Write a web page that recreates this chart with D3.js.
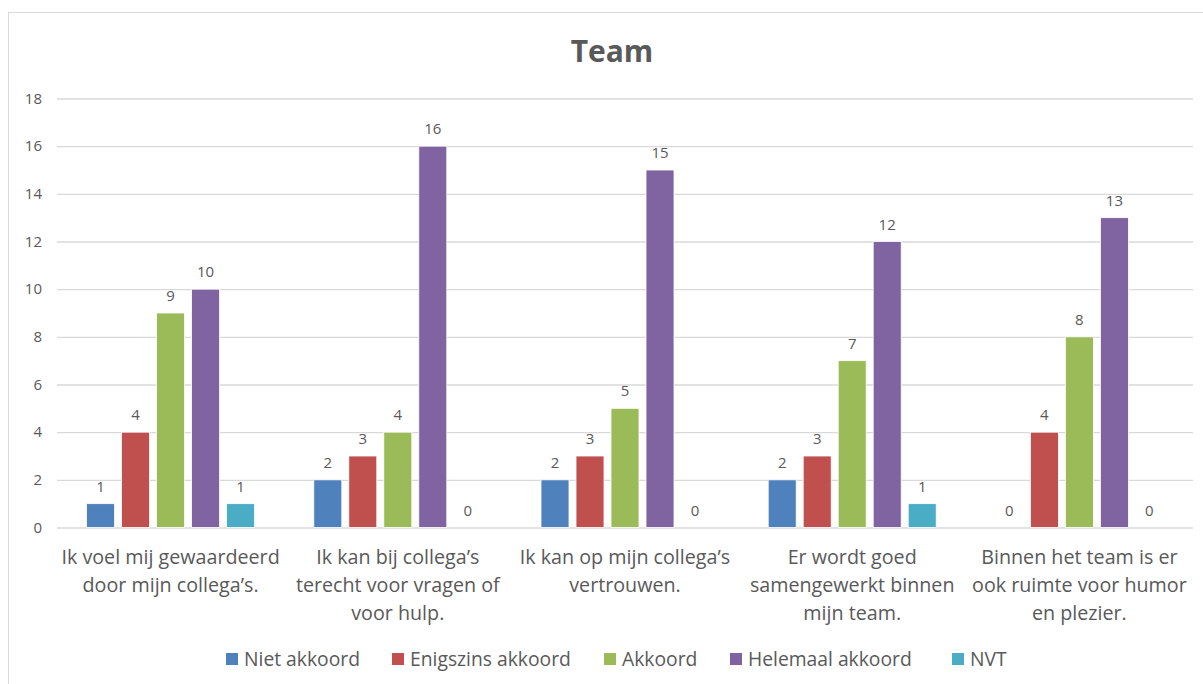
<!DOCTYPE html>
<html>
<head>
<meta charset="utf-8">
<script src="https://cdn.jsdelivr.net/npm/d3@7"></script>
<style>
  html, body { margin: 0; padding: 0; background: #ffffff; }
  svg { display: block; font-family: "Open Sans", "Lato", sans-serif; }
</style>
</head>
<body>
<svg id="chart" width="1203" height="684"></svg>
<script>
// Survey results: team questions, counts per answer
const categories = [
  ["Ik voel mij gewaardeerd", "door mijn collega’s."],
  ["Ik kan bij collega’s", "terecht voor vragen of", "voor hulp."],
  ["Ik kan op mijn collega’s", "vertrouwen."],
  ["Er wordt goed", "samengewerkt binnen", "mijn team."],
  ["Binnen het team is er", "ook ruimte voor humor", "en plezier."]
];
const seriesNames = ["Niet akkoord", "Enigszins akkoord", "Akkoord", "Helemaal akkoord", "NVT"];
const nietAkkoord      = [1, 2, 2, 2, 0];
const enigszinsAkkoord = [4, 3, 3, 3, 4];
const akkoord          = [9, 4, 5, 7, 8];
const helemaalAkkoord  = [10, 16, 15, 12, 13];
const nvt              = [1, 0, 0, 1, 0];
const yTicks = [0, 2, 4, 6, 8, 10, 12, 14, 16, 18];
const colors = ["#4F81BD", "#C0504D", "#9BBB59", "#8064A2", "#4BACC6"];

const seriesValues = [nietAkkoord, enigszinsAkkoord, akkoord, helemaalAkkoord, nvt];

const svg = d3.select("#chart");
const textColor = "#595959";

// Chart frame
svg.append("rect")
  .attr("x", 8.5).attr("y", 12.5)
  .attr("width", 1200).attr("height", 700)
  .attr("fill", "#ffffff")
  .attr("stroke", "#d9d9d9").attr("stroke-width", 1);

// Title
svg.append("text")
  .attr("x", 612).attr("y", 62)
  .attr("text-anchor", "middle")
  .attr("font-size", 30).attr("font-weight", "bold")
  .attr("fill", textColor)
  .text("Team");

const plot = { left: 57, right: 1193, top: 98.5, bottom: 527.5 };

const x0 = d3.scaleBand()
  .domain(d3.range(categories.length))
  .range([plot.left, plot.right])
  .paddingInner(0).paddingOuter(0);

const groupWidth = 175;
const x1 = d3.scaleBand()
  .domain(d3.range(seriesNames.length))
  .range([0, groupWidth])
  .paddingInner(0.2).paddingOuter(0.1);

const y = d3.scaleLinear().domain([0, 18]).range([plot.bottom, plot.top]);

// Gridlines and y tick labels
const yAxis = d3.axisLeft(y)
  .tickValues(yTicks)
  .tickSize(-(plot.right - plot.left))
  .tickPadding(15);
const gy = svg.append("g")
  .attr("transform", `translate(${plot.left},0)`)
  .call(yAxis);
gy.select(".domain").remove();
gy.selectAll(".tick line").attr("stroke", "#d9d9d9").attr("stroke-width", 1.3);
gy.selectAll(".tick text")
  .attr("fill", textColor)
  .attr("font-size", 15)
  .attr("font-family", "'Open Sans', sans-serif");

// Bars
const groups = svg.append("g").selectAll("g")
  .data(categories.map((c, i) => i))
  .join("g")
  .attr("transform", i => `translate(${x0(i) + x0.bandwidth() / 2 - groupWidth / 2},0)`);

groups.selectAll("rect")
  .data(i => seriesValues.map((vals, s) => ({ s, v: vals[i] })))
  .join("rect")
  .filter(d => d.v > 0)
  .attr("x", d => x1(d.s))
  .attr("y", d => y(d.v))
  .attr("width", x1.bandwidth())
  .attr("height", d => y(0) - y(d.v))
  .attr("fill", d => colors[d.s])
  .attr("stroke", "#ffffff")
  .attr("stroke-width", 0.8);

// Value labels
groups.selectAll("text.value")
  .data(i => seriesValues.map((vals, s) => ({ s, v: vals[i] })))
  .join("text")
  .attr("class", "value")
  .attr("x", d => x1(d.s) + x1.bandwidth() / 2)
  .attr("y", d => y(d.v) - 12)
  .attr("text-anchor", "middle")
  .attr("font-size", 15)
  .attr("fill", textColor)
  .text(d => d.v);

// Category labels
const catLabels = svg.append("g").selectAll("text")
  .data(categories)
  .join("text")
  .attr("x", (d, i) => x0(i) + x0.bandwidth() / 2)
  .attr("y", 564)
  .attr("text-anchor", "middle")
  .attr("font-size", 19.7)
  .attr("fill", textColor);
catLabels.selectAll("tspan")
  .data(d => d)
  .join("tspan")
  .attr("x", function () { return d3.select(this.parentNode).attr("x"); })
  .attr("dy", (d, j) => j === 0 ? 0 : 28)
  .text(d => d);

// Legend
const legendX = [226, 392, 604, 730, 952];
const legend = svg.append("g").selectAll("g")
  .data(seriesNames)
  .join("g")
  .attr("transform", (d, i) => `translate(${legendX[i]},653)`);
legend.append("rect")
  .attr("width", 12).attr("height", 12)
  .attr("fill", (d, i) => colors[i]);
legend.append("text")
  .attr("x", 18).attr("y", 12.5)
  .attr("font-size", 19.3)
  .attr("fill", textColor)
  .text(d => d);
</script>
</body>
</html>
